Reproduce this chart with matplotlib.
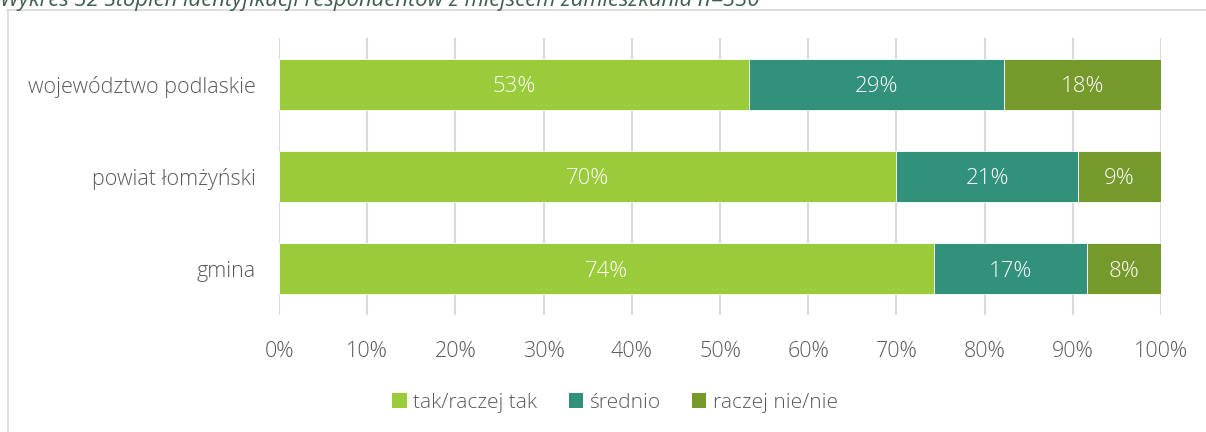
import matplotlib
matplotlib.use("Agg")
import matplotlib.pyplot as plt
from matplotlib.lines import Line2D
from matplotlib.patches import Patch

# Survey data: share of respondents (%) per level of identification
categories = ["gmina", "powiat łomżyński", "województwo podlaskie"]
series_names = ["tak/raczej tak", "średnio", "raczej nie/nie"]
tak = [74.3, 70.0, 53.3]
srednio = [17.3, 20.6, 28.9]
nie = [8.4, 9.4, 17.8]
x_ticks = [0, 10, 20, 30, 40, 50, 60, 70, 80, 90, 100]
title = "Wykres 32 Stopień identyfikacji respondentów z miejscem zamieszkania n=330"

colors = ["#9ACB3A", "#31917A", "#76992C"]
text_gray = "#595959"
font = ["Open Sans", "DejaVu Sans"]
plt.rcParams["font.family"] = font
fs = 15.5

W, H = 1206, 432
fig = plt.figure(figsize=(W / 100, H / 100), dpi=100)
ax = fig.add_axes([279 / W, 1 - 315 / H, (1161 - 279) / W, (315 - 38) / H])

ypos = list(range(len(categories)))
left = [0.0] * len(categories)
for vals, color, name in zip([tak, srednio, nie], colors, series_names):
    bars = ax.barh(ypos, vals, left=left, height=0.55, color=color,
                   edgecolor="white", linewidth=0.6, label=name, zorder=3)
    for b, v, l in zip(bars, vals, left):
        ax.text(l + v / 2, b.get_y() + b.get_height() / 2, f"{v:.0f}%",
                ha="center", va="center_baseline", color="white", fontsize=fs + 0.5,
                fontweight="light", zorder=4)
    left = [a + b for a, b in zip(left, vals)]

ax.set_xlim(0, 100)
ax.set_ylim(-0.5, 2.5)
ax.set_xticks(x_ticks)
ax.set_xticklabels([f"{t}%" for t in x_ticks], color=text_gray, fontsize=fs,
                   fontweight="light")
ax.set_yticks(ypos)
ax.set_yticklabels(categories, color=text_gray, fontsize=fs, fontweight="light")
ax.tick_params(axis="x", length=0, pad=19)
ax.tick_params(axis="y", length=0, pad=17)
ax.grid(axis="x", color="#D9D9D9", linewidth=1.5, zorder=0)
for s in ax.spines.values():
    s.set_visible(False)

handles = [Patch(facecolor=c, edgecolor="none") for c in colors]
leg = fig.legend(handles, series_names, loc="center", bbox_to_anchor=(615 / W, 1 - 403 / H),
                 ncol=3, frameon=False, fontsize=15, handlelength=0.7,
                 handleheight=0.7, handletextpad=0.3, columnspacing=1.5)
for t in leg.get_texts():
    t.set_color(text_gray)
    t.set_fontweight("light")

# chart frame
fig.add_artist(Line2D([7.5 / W, 7.5 / W], [0, 1 - 10 / H], transform=fig.transFigure,
                      color="#D9D9D9", linewidth=1.2))
fig.add_artist(Line2D([7 / W, 1], [1 - 10 / H, 1 - 10 / H], transform=fig.transFigure,
                      color="#D9D9D9", linewidth=1.2))

fig.text(0, 1 - 6 / H, title, ha="left", va="baseline", style="italic",
         color="#3E5E4E", fontsize=15.8)

fig.savefig("out.png", dpi=100)
